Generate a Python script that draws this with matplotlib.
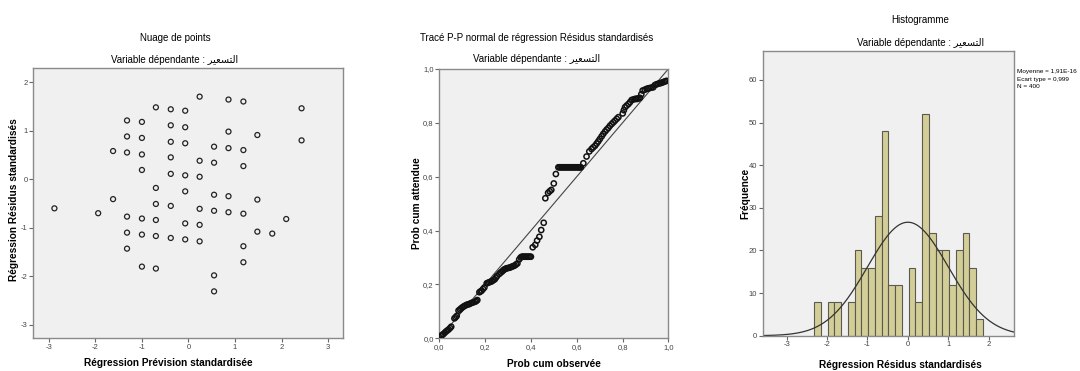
import matplotlib
matplotlib.use("Agg")
import matplotlib.pyplot as plt
import numpy as np

plt.rcParams['font.family'] = ['Liberation Sans', 'DejaVu Sans']
plt.rcParams['axes.unicode_minus'] = False

# Arabic variable name, shaped presentation forms in visual order (التسعير)
var_name = "\uFEAE\uFEF4\uFECC\uFEB4\uFE98\uFEDF\uFE8D"
subtitle = "Variable dépendante : " + var_name

# --- panel 1: scatter of standardized residuals vs predicted
scatter_x = [0.24, 0.86, 1.18, 2.43, -0.70, -0.38, -0.07, -1.32, -1.00, -0.38, -0.07, 0.86,
             1.48, 2.43, -1.32, -1.00, -0.38, -0.07, 0.55, 0.86, 1.18, -1.62, -1.32, -1.00,
             -0.38, 0.24, 0.55, 1.18, -1.00, -0.38, -0.07, 0.24, -0.70, -0.07, 0.55, 0.86,
             1.48, -1.62, -0.70, -0.38, -2.88, 0.24, 0.55, 0.86, 1.18, -1.94, -1.32, -1.00,
             -0.70, 2.10, -0.07, 0.24, -1.32, -1.00, -0.70, -0.38, -0.07, 0.24, 1.48, 1.80,
             1.18, -1.32, 1.18, -1.00, -0.70, 0.55, 0.55]
scatter_y = [1.70, 1.64, 1.60, 1.46, 1.48, 1.44, 1.41, 1.21, 1.18, 1.11, 1.07, 0.98,
             0.91, 0.80, 0.88, 0.85, 0.77, 0.74, 0.67, 0.64, 0.60, 0.58, 0.55, 0.51,
             0.45, 0.38, 0.34, 0.27, 0.19, 0.11, 0.08, 0.05, -0.18, -0.25, -0.32, -0.35,
             -0.42, -0.41, -0.51, -0.55, -0.60, -0.61, -0.65, -0.68, -0.71, -0.70, -0.77, -0.81,
             -0.84, -0.82, -0.91, -0.94, -1.10, -1.14, -1.17, -1.21, -1.24, -1.28, -1.08, -1.12,
             -1.38, -1.43, -1.71, -1.80, -1.84, -1.98, -2.31]

# --- panel 2: P-P plot (observed, expected)
pp_x = [0.007, 0.012, 0.017, 0.023, 0.029, 0.035, 0.041, 0.047, 0.052, 0.066, 0.071, 0.076,
        0.084, 0.090, 0.095, 0.101, 0.106, 0.112, 0.119, 0.125, 0.131, 0.137, 0.143, 0.150,
        0.157, 0.162, 0.166, 0.175, 0.180, 0.185, 0.191, 0.197, 0.207, 0.212, 0.218, 0.224,
        0.230, 0.236, 0.242, 0.247, 0.252, 0.262, 0.268, 0.274, 0.279, 0.284, 0.289, 0.294,
        0.300, 0.306, 0.312, 0.317, 0.323, 0.329, 0.335, 0.341, 0.349, 0.355, 0.360, 0.365,
        0.370, 0.375, 0.380, 0.385, 0.390, 0.395, 0.400, 0.408, 0.419, 0.427, 0.437, 0.445,
        0.456, 0.463, 0.475, 0.482, 0.489, 0.500, 0.509, 0.520, 0.525, 0.530, 0.535, 0.540,
        0.545, 0.550, 0.555, 0.560, 0.565, 0.570, 0.575, 0.580, 0.585, 0.590, 0.595, 0.600,
        0.605, 0.610, 0.614, 0.618, 0.629, 0.643, 0.655, 0.665, 0.672, 0.680, 0.687, 0.694,
        0.701, 0.709, 0.716, 0.724, 0.731, 0.738, 0.745, 0.753, 0.760, 0.767, 0.775, 0.782,
        0.801, 0.806, 0.811, 0.818, 0.826, 0.833, 0.840, 0.848, 0.855, 0.860, 0.865, 0.870,
        0.876, 0.882, 0.888, 0.897, 0.905, 0.912, 0.918, 0.926, 0.934, 0.941, 0.948, 0.955,
        0.962, 0.968, 0.974, 0.980, 0.986, 0.992]
pp_y = [0.009, 0.012, 0.015, 0.020, 0.025, 0.029, 0.033, 0.038, 0.043, 0.074, 0.078, 0.083,
        0.103, 0.107, 0.111, 0.115, 0.118, 0.121, 0.124, 0.126, 0.127, 0.130, 0.132, 0.134,
        0.136, 0.139, 0.142, 0.171, 0.174, 0.177, 0.183, 0.189, 0.204, 0.206, 0.208, 0.210,
        0.212, 0.216, 0.219, 0.225, 0.231, 0.239, 0.244, 0.248, 0.252, 0.256, 0.258, 0.260,
        0.261, 0.262, 0.264, 0.266, 0.268, 0.270, 0.274, 0.278, 0.293, 0.300, 0.303, 0.303,
        0.303, 0.303, 0.303, 0.303, 0.303, 0.303, 0.303, 0.338, 0.347, 0.363, 0.377, 0.402,
        0.429, 0.520, 0.540, 0.546, 0.551, 0.575, 0.610, 0.635, 0.635, 0.635, 0.635, 0.635,
        0.635, 0.635, 0.635, 0.635, 0.635, 0.635, 0.635, 0.635, 0.635, 0.635, 0.635, 0.635,
        0.635, 0.635, 0.635, 0.635, 0.650, 0.675, 0.694, 0.703, 0.709, 0.715, 0.723, 0.731,
        0.740, 0.750, 0.759, 0.768, 0.775, 0.781, 0.789, 0.796, 0.802, 0.808, 0.815, 0.821,
        0.835, 0.847, 0.858, 0.864, 0.870, 0.877, 0.885, 0.887, 0.889, 0.889, 0.889, 0.891,
        0.893, 0.906, 0.920, 0.923, 0.926, 0.928, 0.929, 0.931, 0.932, 0.940, 0.943, 0.945,
        0.947, 0.948, 0.950, 0.952, 0.954, 0.956]

# --- panel 3: histogram of standardized residuals
hist_start = -2.315
hist_width = 1 / 6
hist_counts = [8, 0, 8, 8, 0, 8, 20, 16, 16, 28, 48, 12, 12, 0, 16, 8, 52, 24, 20, 20, 12, 20, 24, 16, 4]
res_mean = 1.91e-16
res_sd = 0.999
res_n = 400

W, H = 1080, 371
fig = plt.figure(figsize=(W / 100, H / 100), dpi=100)


def ftext(x, y, s, **kw):
    kw.setdefault('ha', 'center')
    kw.setdefault('va', 'center')
    fig.text(x / W, 1 - y / H, s, **kw)


def make_axes(l, t, r, b):
    ax = fig.add_axes([l / W, 1 - b / H, (r - l) / W, (b - t) / H])
    ax.set_facecolor('#F0F0F0')
    for sp in ax.spines.values():
        sp.set_color('#8a8a8a')
        sp.set_linewidth(1.0)
    ax.tick_params(direction='out', length=3, width=0.8, color='#666666',
                   labelsize=5.5, labelcolor='#444444', pad=1)
    return ax


tick_fmt = lambda v: f"{v:.1f}".replace('.', ',')

# panel 1
ax1 = make_axes(33, 68, 343, 338)
ax1.scatter(scatter_x, scatter_y, s=13, facecolors='none', edgecolors='#222222', linewidths=0.9)
ax1.set_xlim(-3.34, 3.32)
ax1.set_ylim(-3.27, 2.29)
ax1.set_xticks(range(-3, 4))
ax1.set_yticks(range(-3, 3))
ftext(175, 38, "Nuage de points", fontsize=7)
ftext(175, 60, subtitle, fontsize=7)
ftext(168, 363, "Régression Prévision standardisée", fontsize=7.3, fontweight='bold')
ftext(14, 200, "Régression Résidus standardisés", fontsize=7.3, fontweight='bold', rotation=90)

# panel 2
ax2 = make_axes(439.3, 69, 668.3, 338.3)
ax2.plot([0, 1], [0, 1], color='#444444', linewidth=0.8)
ax2.scatter(pp_x, pp_y, s=14, facecolors='none', edgecolors='#111111', linewidths=1.1, zorder=3)
ax2.set_xlim(0, 1)
ax2.set_ylim(0, 1)
ticks = [0, 0.2, 0.4, 0.6, 0.8, 1.0]
ax2.set_xticks(ticks)
ax2.set_yticks(ticks)
ax2.set_xticklabels([tick_fmt(v) for v in ticks])
ax2.set_yticklabels([tick_fmt(v) for v in ticks])
ftext(537, 38, "Tracé P-P normal de régression Résidus standardisés", fontsize=7)
ftext(537, 59, subtitle, fontsize=7)
ftext(554, 364, "Prob cum observée", fontsize=7.3, fontweight='bold')
ftext(417, 203, "Prob cum attendue", fontsize=7.3, fontweight='bold', rotation=90)

# panel 3
ax3 = make_axes(762.7, 51, 1014.3, 335.7)
edges = hist_start + hist_width * np.arange(len(hist_counts) + 1)
ax3.bar(edges[:-1], hist_counts, width=hist_width, align='edge',
        color='#D3CE97', edgecolor='#5a5a50', linewidth=0.8)
xs = np.linspace(-3.59, 2.63, 300)
curve = res_n * hist_width * np.exp(-0.5 * ((xs - res_mean) / res_sd) ** 2) / (res_sd * np.sqrt(2 * np.pi))
ax3.plot(xs, curve, color='#333333', linewidth=0.9)
ax3.set_xlim(-3.59, 2.63)
ax3.set_ylim(0, 66.8)
ax3.set_xticks(range(-3, 3))
ax3.set_yticks(range(0, 70, 10))
ftext(920, 20, "Histogramme", fontsize=7)
ftext(921, 43, subtitle, fontsize=7)
ftext(900, 365, "Régression Résidus standardisés", fontsize=7.3, fontweight='bold')
ftext(745, 193, "Fréquence", fontsize=7.3, fontweight='bold', rotation=90)
ftext(1017, 71, "Moyenne = 1,91E-16", fontsize=4.6, ha='left')
ftext(1017, 79, "Ecart type = 0,999", fontsize=4.6, ha='left')
ftext(1017, 87, "N = 400", fontsize=4.6, ha='left')

fig.savefig("out.png", dpi=100, facecolor='white')
